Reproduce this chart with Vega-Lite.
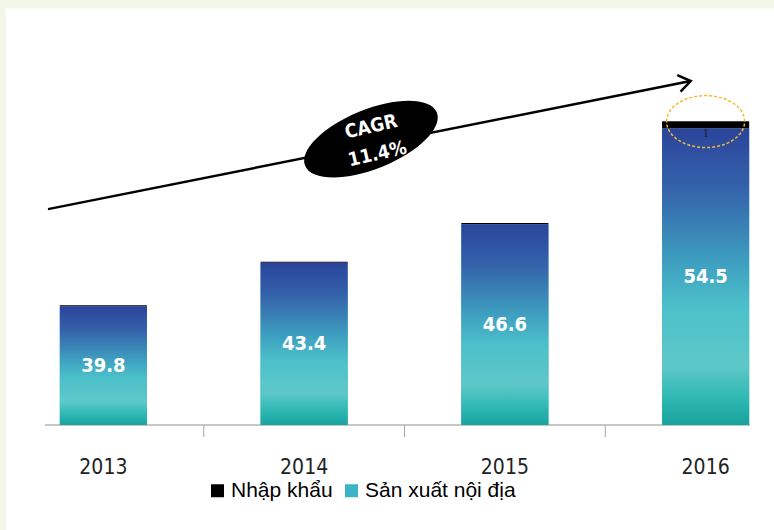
{
  "$schema": "https://vega.github.io/schema/vega-lite/v6.json",
  "width": 705,
  "height": 363,
  "autosize": {"type": "none"},
  "padding": {"left": 45, "top": 62, "right": 24, "bottom": 105},
  "background": "#f2f6e9",
  "config": {"view": {"stroke": null}},
  "datasets": {
    "bars": [
      {"year": "2013", "Sản xuất nội địa": 39.8, "Nhập khẩu": 0.1},
      {"year": "2014", "Sản xuất nội địa": 43.4, "Nhập khẩu": 0.1},
      {"year": "2015", "Sản xuất nội địa": 46.6, "Nhập khẩu": 0.1},
      {"year": "2016", "Sản xuất nội địa": 54.5, "Nhập khẩu": 0.6}
    ],
    "arrow": [
      {"px": 0.0043, "py": 47.84},
      {"px": 0.9159, "py": 58.43}
    ],
    "cagr": [
      {"px": 0.4624, "py": 53.62, "tx": 0.4625, "ty": 54.65, "lines": ["CAGR", "11.4%"]}
    ]
  },
  "resolve": {"scale": {"x": "independent"}},
  "layer": [
    {
      "layer": [
        {
          "data": {"values": [{}]},
          "mark": {"type": "rect", "fill": "white"},
          "encoding": {
            "x": {"datum": -0.0553, "type": "quantitative", "scale": {"domain": [0, 1], "nice": false, "zero": false}, "axis": null},
            "x2": {"datum": 1.2},
            "y": {"datum": 64.43, "type": "quantitative", "scale": {"domain": [30, 60], "nice": false, "zero": false}, "axis": null},
            "y2": {"datum": 10}
          }
        },
        {
          "data": {"values": [{}]},
          "mark": {"type": "rule", "color": "#b4b4b4", "strokeWidth": 1.5},
          "encoding": {
            "y": {"datum": 30, "type": "quantitative"}
          }
        },
        {
          "data": {"name": "arrow"},
          "mark": {"type": "line", "color": "#000000", "strokeWidth": 2.5},
          "encoding": {
            "x": {"field": "px", "type": "quantitative"},
            "y": {"field": "py", "type": "quantitative"}
          }
        },
        {
          "data": {"name": "arrow"},
          "transform": [{"filter": "datum.px > 0.5"}],
          "mark": {"type": "point", "shape": "M-1,-0.7L0,0L-1,0.7", "filled": false, "stroke": "#000000", "strokeWidth": 2.5, "size": 576, "angle": -11.3, "opacity": 1},
          "encoding": {
            "x": {"field": "px", "type": "quantitative"},
            "y": {"field": "py", "type": "quantitative"}
          }
        },
        {
          "data": {"name": "cagr"},
          "mark": {"type": "point", "shape": "M-1,0A1,0.42,0,1,1,1,0A1,0.42,0,1,1,-1,0Z", "filled": true, "fill": "#000000", "strokeWidth": 0, "size": 20164, "angle": -22, "opacity": 1},
          "encoding": {
            "x": {"field": "px", "type": "quantitative"},
            "y": {"field": "py", "type": "quantitative"}
          }
        },
        {
          "data": {"name": "cagr"},
          "mark": {"type": "text", "color": "#ffffff", "font": "DejaVu Sans Condensed", "fontWeight": "bold", "fontSize": 19, "angle": -13, "lineHeight": 28, "align": "center", "baseline": "middle"},
          "encoding": {
            "x": {"field": "tx", "type": "quantitative"},
            "y": {"field": "ty", "type": "quantitative"},
            "text": {"field": "lines"}
          }
        }
      ]
    },
    {
      "data": {"name": "bars"},
      "layer": [
        {
          "transform": [{"fold": ["Sản xuất nội địa", "Nhập khẩu"], "as": ["series", "value"]}],
          "mark": {"type": "bar", "clip": true, "width": {"band": 0.434}},
          "encoding": {
            "x": {
              "field": "year", "type": "nominal",
              "scale": {"type": "band", "range": [-42, 761], "paddingInner": 0, "paddingOuter": 0},
              "axis": {"orient": "bottom", "title": null, "domain": false, "ticks": false, "labelFont": "DejaVu Sans Condensed", "labelFontSize": 21, "labelColor": "#222222", "labelPadding": 31, "labelAngle": 0, "zindex": 1}
            },
            "y": {"field": "value", "type": "quantitative", "stack": "zero", "scale": {"domain": [30, 60], "nice": false, "zero": false}, "axis": null},
            "color": {
              "field": "series", "type": "nominal",
              "scale": {"domain": ["Nhập khẩu", "Sản xuất nội địa"], "range": ["#000000", "#3cb3c6"]},
              "legend": {"title": null, "orient": "none", "legendX": 162, "legendY": 418, "direction": "horizontal", "symbolType": "square", "symbolSize": 169, "symbolStrokeWidth": 0, "labelFont": "Liberation Sans", "labelFontSize": 21, "labelColor": "#000000", "labelOffset": 3, "columnPadding": 8, "padding": 0}
            },
            "order": {"field": "series", "sort": "descending"}
          }
        },
        {
          "mark": {
            "type": "bar",
            "width": {"band": 0.434},
            "fill": {"gradient": "linear", "x1": 0, "y1": 0, "x2": 0, "y2": 1, "stops": [
              {"offset": 0, "color": "#2b449c"},
              {"offset": 0.2, "color": "#3462aa"},
              {"offset": 0.45, "color": "#3e9fc0"},
              {"offset": 0.6, "color": "#4cc0ca"},
              {"offset": 0.8, "color": "#5ec8c9"},
              {"offset": 0.9, "color": "#33bab6"},
              {"offset": 1, "color": "#17a49d"}
            ]}
          },
          "encoding": {
            "x": {"field": "year", "type": "nominal"},
            "y": {"field": "Sản xuất nội địa", "type": "quantitative"},
            "y2": {"datum": 30}
          }
        },
        {
          "transform": [{"filter": "datum.year != '2013'"}],
          "mark": {"type": "rule", "color": "#a6a6a6", "strokeWidth": 1},
          "encoding": {
            "x": {"field": "year", "type": "nominal", "bandPosition": 0},
            "y": {"datum": 30, "type": "quantitative"},
            "y2": {"datum": 29}
          }
        },
        {
          "transform": [{"calculate": "(datum['Sản xuất nội địa'] + 30) / 2", "as": "mid"}],
          "mark": {"type": "text", "color": "#ffffff", "font": "DejaVu Sans Condensed", "fontWeight": "bold", "fontSize": 20, "align": "center", "baseline": "middle"},
          "encoding": {
            "x": {"field": "year", "type": "nominal"},
            "y": {"field": "mid", "type": "quantitative"},
            "text": {"field": "Sản xuất nội địa", "type": "quantitative", "format": ".1f"}
          }
        },
        {
          "transform": [{"filter": "datum.year == '2016'"}],
          "mark": {"type": "text", "color": "#1c1c3a", "font": "Liberation Serif", "fontSize": 12, "align": "center", "baseline": "top", "dy": -1},
          "encoding": {
            "x": {"field": "year", "type": "nominal"},
            "y": {"field": "Sản xuất nội địa", "type": "quantitative"},
            "text": {"field": "Nhập khẩu", "type": "quantitative", "format": ".0f"}
          }
        },
        {
          "transform": [{"filter": "datum.year == '2016'"}],
          "mark": {"type": "point", "shape": "M-1,0A1,0.667,0,1,1,1,0A1,0.667,0,1,1,-1,0Z", "filled": false, "stroke": "#f4b834", "strokeWidth": 1.5, "strokeDash": [3, 2], "size": 6084, "opacity": 1, "yOffset": -7},
          "encoding": {
            "x": {"field": "year", "type": "nominal"},
            "y": {"field": "Sản xuất nội địa", "type": "quantitative"}
          }
        }
      ]
    }
  ]
}
